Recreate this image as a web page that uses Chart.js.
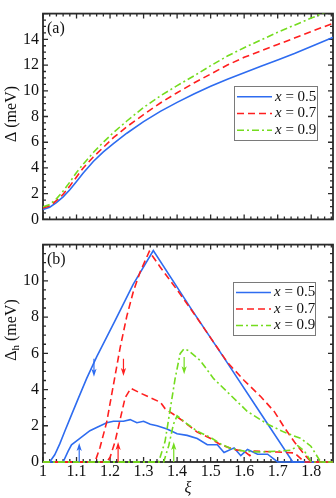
<!DOCTYPE html>
<html><head><meta charset="utf-8">
<script src="https://cdn.jsdelivr.net/npm/chart.js@4.4.0/dist/chart.umd.min.js"></script>
<style>
html,body{margin:0;padding:0;background:#fff;}
#wrap{position:relative;width:336px;height:498px;overflow:hidden;background:#fff}
#ca{position:absolute;left:0;top:0;width:336px;height:233px}
#cb{position:absolute;left:0;top:231px;width:336px;height:267px}
canvas{display:block}
</style></head><body>
<div id="wrap"><div id="ca"><canvas id="A" width="336" height="233"></canvas></div><div id="cb"><canvas id="B" width="336" height="267"></canvas></div></div>
<script>
// ---------- DATA ----------
const seriesLabels = ['x = 0.5', 'x = 0.7', 'x = 0.9'];

// Panel (a): Δ (meV) vs ξ
const xiA    = [1.00,1.02,1.04,1.06,1.08,1.10,1.12,1.15,1.18,1.21,1.25,1.30,1.35,1.40,1.45,1.50,1.55,1.60,1.65,1.70,1.75,1.80,1.87];
const gapX05 = [0.78,0.95,1.30,1.75,2.30,2.95,3.60,4.50,5.25,5.90,6.70,7.60,8.40,9.10,9.75,10.35,10.90,11.40,11.90,12.40,12.90,13.45,14.20];
const gapX07 = [0.88,1.05,1.45,1.95,2.60,3.30,4.00,4.85,5.60,6.35,7.20,8.15,9.05,9.85,10.60,11.30,12.00,12.60,13.10,13.60,14.10,14.60,15.30];
const gapX09 = [0.98,1.15,1.60,2.20,2.90,3.65,4.30,5.20,6.00,6.75,7.65,8.70,9.60,10.40,11.15,11.95,12.70,13.35,13.95,14.55,15.10,15.65,16.40];

// Panel (b): Δh (meV) vs ξ, upper and lower branches
const upXi05  = [1.00,1.02,1.035,1.05,1.065,1.085,1.105,1.13,1.16,1.215,1.269,1.329,1.444,1.540,1.649,1.745,1.87];
const upVal05 = [0,   0,   0.40, 1.00,1.70, 2.60, 3.50, 4.60,5.80,7.80, 9.80, 11.67,8.40, 5.75, 2.69, 0,    0];
const loXi05  = [1.00,1.06,1.075,1.085,1.11,1.14,1.16,1.19,1.21,1.24,1.26,1.28,1.30,1.32,1.34,1.37,1.40,1.43,1.46,1.49,1.52,1.54,1.57,1.59,1.61,1.64,1.67,1.70,1.87];
const loVal05 = [0,   0,   0.60, 0.95, 1.30,1.73,1.90,2.17,2.25,2.25,2.34,2.17,2.25,2.08,2.00,1.82,1.56,1.47,1.30,0.95,0.95,0.52,0.78,0.35,0.69,0.43,0.43,0,   0];

const upXi07  = [1.00,1.155,1.17,1.19,1.21,1.23,1.25,1.27,1.29,1.317,1.35,1.40,1.45,1.50,1.55,1.60,1.65,1.69,1.72,1.75,1.78,1.80,1.87];
const upVal07 = [0,   0,    0.80,2.20,4.25,6.30,8.05,9.45,10.50,11.62,10.75,9.50,8.20,6.85,5.50,4.50,3.60,2.78,1.90,1.10,0.40,0,  0];
const loXi07  = [1.00,1.19,1.20,1.215,1.23,1.245,1.262,1.29,1.32,1.35,1.364,1.40,1.43,1.46,1.50,1.53,1.57,1.60,1.617,1.63,1.70,1.75,1.78,1.87];
const loVal07 = [0,   0,   0.26,1.13, 2.34,3.55, 4.07, 3.81,3.55,3.30,2.95, 2.50,2.08,1.65,1.30,0.95,0.69,0.60,0.35, 0.60,0.55,0.50,0,   0];

const upXi09  = [1.00,1.345,1.364,1.379,1.394,1.409,1.420,1.434,1.469,1.509,1.559,1.609,1.669,1.719,1.769,1.799,1.825,1.835,1.87];
const upVal09 = [0,   0,    1.13, 2.86, 4.60, 5.98, 6.24, 6.15, 5.60, 4.60, 3.70, 2.80, 2.10, 1.65, 1.30, 0.87, 0.10, 0,    0];
const loXi09  = [1.00,1.36,1.375,1.389,1.40,1.43,1.46,1.50,1.53,1.56,1.60,1.65,1.70,1.74,1.76,1.78,1.80,1.87];
const loVal09 = [0,   0,   0.90, 2.08, 2.55,2.10,1.70,1.35,1.00,0.75,0.60,0.55,0.60,0.65,0.90,0.60,0,   0];

// Arrows on panel (b): ξ position, start value, end value, series index
const arrowXi     = [1.152, 1.108, 1.240, 1.224, 1.421, 1.390];
const arrowFrom   = [5.7,   0.0,   5.7,   0.0,   5.8,   0.0];
const arrowTo     = [4.7,   1.05,  4.75,  1.10,  4.85,  1.10];
const arrowSeries = [0, 0, 1, 1, 2, 2];

const yTicksA = [0,2,4,6,8,10,12,14];
const yTicksB = [0,2,4,6,8,10];
const xTickLabels = ['1','1.1','1.2','1.3','1.4','1.5','1.6','1.7','1.8'];

// ---------- STYLE ----------
const COLORS = ['#2e6cf0', '#ff1f1f', '#74dc1e'];
const DASHES = [[], [7,4], [7,3,2,3]];
const ORDERS = [2, 1, 0];
const SERIF = '"Liberation Serif", "Times New Roman", serif';

function pts(xs, ys) { return xs.map((v, i) => ({x: v, y: ys[i]})); }
function ds(xs, ys, s, legend) {
  return {
    label: seriesLabels[s], data: pts(xs, ys), borderColor: COLORS[s], borderDash: DASHES[s],
    borderWidth: 1.6, pointRadius: 0, fill: false, tension: 0, order: ORDERS[s],
    legendRank: legend ? s : -1, clip: {left: 0, top: 0, right: 0, bottom: 3}
  };
}

const decor = {
  id: 'decor',
  beforeDatasetsDraw(chart, args, o) {
    const {ctx, chartArea: a, scales: {x, y}} = chart;
    ctx.save();
    ctx.strokeStyle = '#2a2a2a';
    ctx.lineWidth = 1.3;
    ctx.beginPath();
    for (let k = 0; ; k++) {
      const v = x.min + k * o.xMinor;
      if (v > x.max + 1e-9) break;
      const px = x.getPixelForValue(v);
      const len = (k % o.xPer === 0) ? 5 : 3;
      ctx.moveTo(px, a.bottom); ctx.lineTo(px, a.bottom - len);
      ctx.moveTo(px, a.top); ctx.lineTo(px, a.top + len);
    }
    for (let k = 0; ; k++) {
      const v = y.min + k * o.yMinor;
      if (v > y.max + 1e-9) break;
      const py = y.getPixelForValue(v);
      const len = (k % o.yPer === 0) ? 5 : 3;
      ctx.moveTo(a.left, py); ctx.lineTo(a.left + len, py);
      ctx.moveTo(a.right, py); ctx.lineTo(a.right - len, py);
    }
    ctx.stroke();
    ctx.lineWidth = 1.8;
    ctx.strokeRect(a.left, a.top, a.right - a.left, a.bottom - a.top);
    ctx.restore();
  },
  afterDatasetsDraw(chart, args, o) {
    const {ctx, chartArea: a, scales: {x, y}} = chart;
    ctx.save();
    // arrows
    if (o.arrows) {
      arrowXi.forEach((xv, i) => {
        const px = x.getPixelForValue(xv);
        const p0 = y.getPixelForValue(arrowFrom[i]);
        const p1 = y.getPixelForValue(arrowTo[i]);
        const dir = p1 > p0 ? 1 : -1;
        ctx.strokeStyle = COLORS[arrowSeries[i]];
        ctx.fillStyle = COLORS[arrowSeries[i]];
        ctx.lineWidth = 1.2;
        ctx.beginPath(); ctx.moveTo(px, p0); ctx.lineTo(px, p1 - dir * 5); ctx.stroke();
        ctx.beginPath();
        ctx.moveTo(px, p1);
        ctx.lineTo(px - 2.6, p1 - dir * 8);
        ctx.lineTo(px, p1 - dir * 6);
        ctx.lineTo(px + 2.6, p1 - dir * 8);
        ctx.closePath(); ctx.fill();
      });
    }
    // panel tag
    ctx.fillStyle = '#111';
    ctx.font = '16px ' + SERIF;
    ctx.textBaseline = 'middle';
    ctx.textAlign = 'left';
    ctx.fillText(o.tag, a.left + 4, a.top + o.tagDy);
    // y title
    ctx.save();
    ctx.translate(o.titleX, o.titleY);
    ctx.rotate(-Math.PI / 2);
    ctx.textBaseline = 'middle';
    const parts = o.title;
    let w = 0;
    parts.forEach(p => { ctx.font = p.size + 'px ' + SERIF; w += ctx.measureText(p.t).width; });
    let cx = -w / 2;
    parts.forEach(p => {
      ctx.font = p.size + 'px ' + SERIF;
      ctx.fillText(p.t, cx, p.dy || 0);
      cx += ctx.measureText(p.t).width;
    });
    ctx.restore();
    // legend
    const L = o.legend;
    ctx.fillStyle = '#fff';
    ctx.fillRect(L.x, L.y, L.w, L.h);
    ctx.strokeStyle = '#7a7a7a'; ctx.lineWidth = 1;
    ctx.strokeRect(L.x + 0.5, L.y + 0.5, L.w, L.h);
    const items = chart.data.datasets.filter(d => d.legendRank >= 0).sort((p, q) => p.legendRank - q.legendRank);
    items.forEach((d, i) => {
      const yy = L.y + L.first + i * L.gap;
      ctx.strokeStyle = d.borderColor; ctx.lineWidth = d.borderWidth;
      ctx.setLineDash(d.borderDash || []);
      ctx.beginPath(); ctx.moveTo(L.x + 3, yy); ctx.lineTo(L.x + 38, yy); ctx.stroke();
      ctx.setLineDash([]);
      ctx.fillStyle = '#111'; ctx.textBaseline = 'middle';
      let tx = L.x + 41;
      ctx.font = 'italic 15px ' + SERIF; ctx.fillText(d.label[0], tx, yy);
      tx += ctx.measureText(d.label[0]).width;
      ctx.font = '15px ' + SERIF; ctx.fillText(d.label.slice(1), tx, yy);
    });
    ctx.restore();
  }
};

const baseY = (ticksArr, max) => ({
  type: 'linear', min: 0, max: max,
  afterFit: s => { s.width = 43; },
  afterBuildTicks: s => { s.ticks = ticksArr.map(v => ({value: v})); },
  grid: {display: false, drawTicks: false}, border: {display: false},
  ticks: {color: '#111', padding: 4, font: {family: SERIF, size: 16}}
});

new Chart(document.getElementById('A'), {
  type: 'line',
  data: {datasets: [
    Object.assign(ds(xiA, gapX05, 0, true), {clip: 0}),
    Object.assign(ds(xiA, gapX07, 1, true), {clip: 0}),
    Object.assign(ds(xiA, gapX09, 2, true), {clip: 0})
  ]},
  options: {
    responsive: false, animation: false, events: [],
    layout: {padding: {top: 1, right: 3, bottom: 1.3, left: 0}},
    plugins: {legend: {display: false}, tooltip: {enabled: false},
      decor: {xMinor: 0.02, xPer: 5, yMinor: 0.5, yPer: 4, tag: '(a)', tagDy: 15, arrows: false,
        titleX: 12, titleY: 114,
        title: [{t: 'Δ (meV)', size: 16}],
        legend: {x: 234, y: 86, w: 83, h: 54, first: 10.7, gap: 16.8}}},
    scales: {
      x: {type: 'linear', min: 1, max: 1.865, display: false},
      y: baseY(yTicksA, 16)
    }
  },
  plugins: [decor]
});

new Chart(document.getElementById('B'), {
  type: 'line',
  data: {datasets: [
    ds(upXi05, upVal05, 0, true), ds(loXi05, loVal05, 0, false),
    ds(upXi07, upVal07, 1, true), ds(loXi07, loVal07, 1, false),
    ds(upXi09, upVal09, 2, true), ds(loXi09, loVal09, 2, false)
  ]},
  options: {
    responsive: false, animation: false, events: [],
    layout: {padding: {top: 1, right: 3, bottom: 0, left: 0}},
    plugins: {legend: {display: false}, tooltip: {enabled: false},
      decor: {xMinor: 0.02, xPer: 5, yMinor: 0.5, yPer: 4, tag: '(b)', tagDy: 15, arrows: true,
        titleX: 12, titleY: 99,
        title: [{t: 'Δ', size: 16}, {t: 'h', size: 11, dy: 4}, {t: ' (meV)', size: 16}],
        legend: {x: 233, y: 51, w: 82, h: 53, first: 10.5, gap: 16.5}}},
    scales: {
      x: {type: 'linear', min: 1, max: 1.865,
        afterFit: s => { s.height = 36; },
        afterBuildTicks: s => { s.ticks = xTickLabels.map(t => ({value: parseFloat(t)})); },
        grid: {display: false, drawTicks: false}, border: {display: false},
        ticks: {color: '#111', padding: 0, maxRotation: 0, autoSkip: false,
          font: {family: SERIF, size: 16},
          callback: (v, i) => xTickLabels[i]},
        title: {display: true, text: 'ξ', color: '#111', padding: {top: 0, bottom: 0},
          font: {family: SERIF, size: 16, style: 'italic'}}
      },
      y: baseY(yTicksB, 12)
    }
  },
  plugins: [decor]
});
</script>
</body></html>
